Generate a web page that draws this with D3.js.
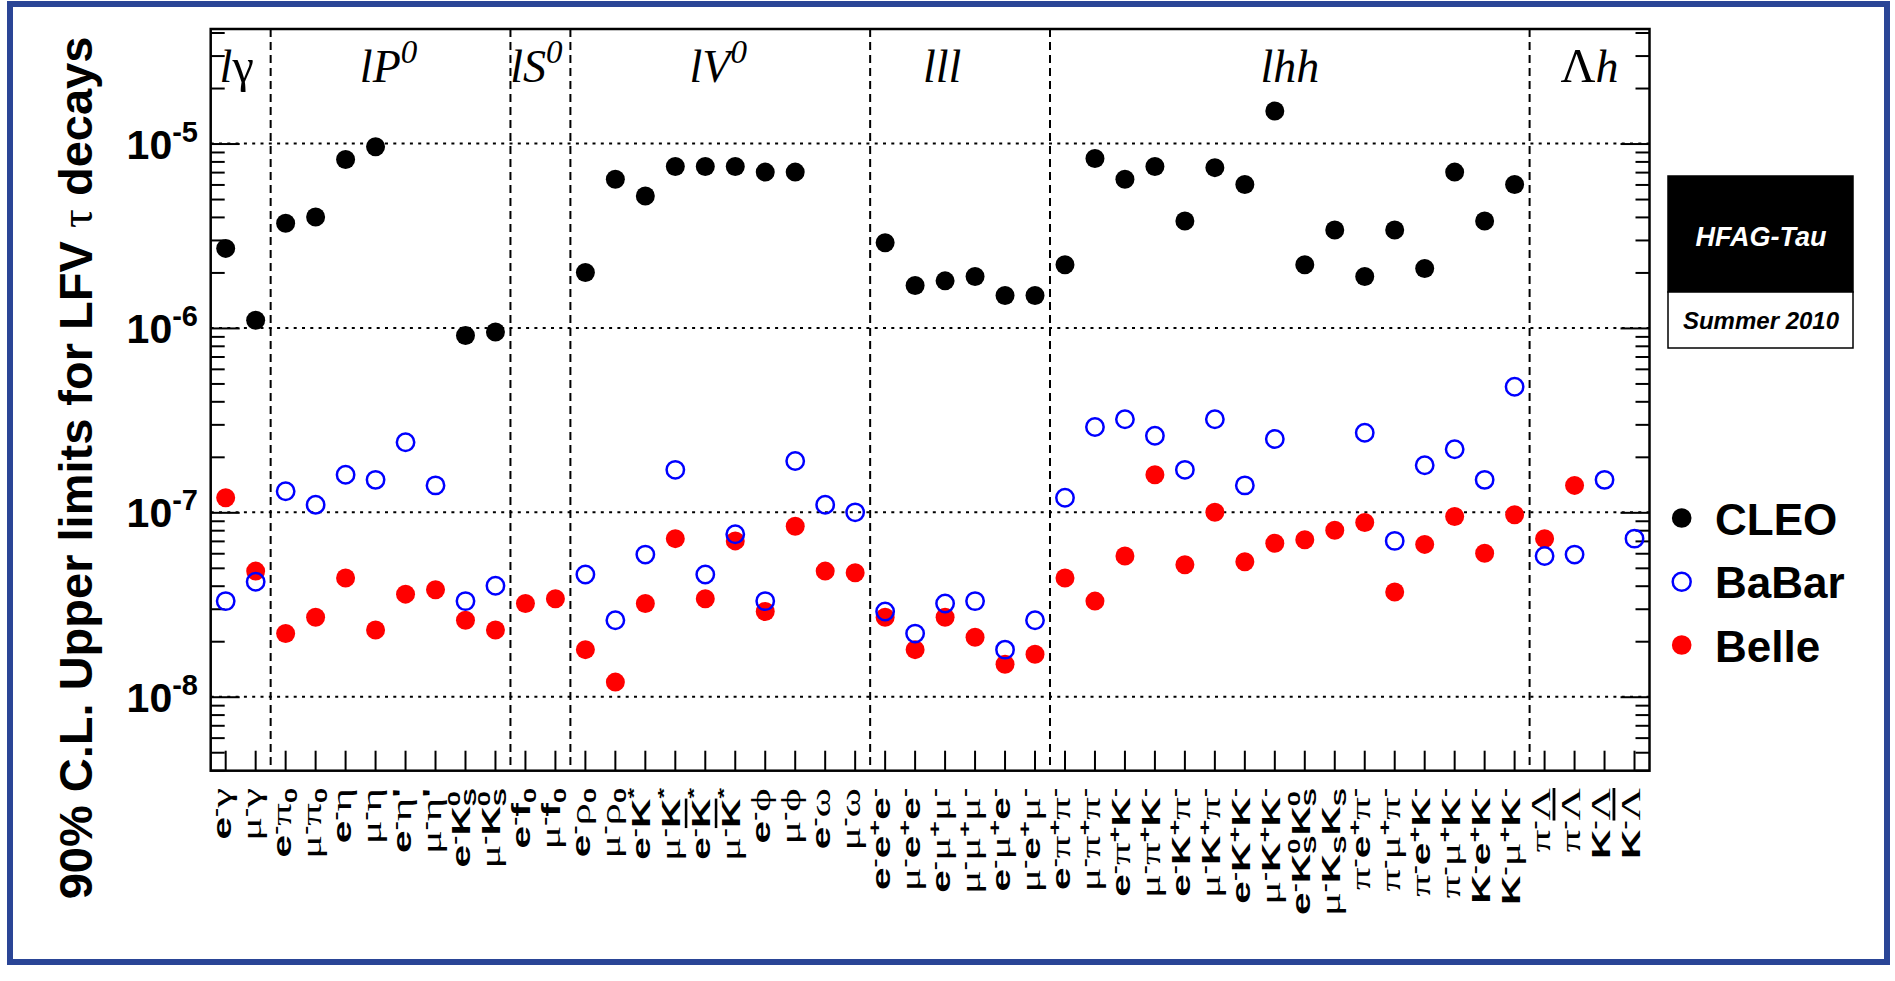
<!DOCTYPE html>
<html><head><meta charset="utf-8">
<script src="https://cdn.jsdelivr.net/npm/d3@7"></script>
<style>html,body{margin:0;padding:0;background:#fff;} svg{display:block}</style>
</head><body>
<svg id="c" width="1895" height="981"></svg>
<script>
// ---------------- data ----------------
const categories = ["e^{-}#gamma","#mu^{-}#gamma",
 "e^{-}#pi_{0}","#mu^{-}#pi_{0}","e^{-}#eta","#mu^{-}#eta","e^{-}#eta'","#mu^{-}#eta'","e^{-}K^{0}_{S}","#mu^{-}K^{0}_{S}",
 "e^{-}f_{0}","#mu^{-}f_{0}",
 "e^{-}#rho_{0}","#mu^{-}#rho_{0}","e^{-}K^{*}","#mu^{-}K^{*}","e^{-}#bar{K}^{*}","#mu^{-}#bar{K}^{*}","e^{-}#phi","#mu^{-}#phi","e^{-}#omega","#mu^{-}#omega",
 "e^{-}e^{+}e^{-}","#mu^{-}e^{+}e^{-}","e^{-}#mu^{+}#mu^{-}","#mu^{-}#mu^{+}#mu^{-}","e^{-}#mu^{+}e^{-}","#mu^{-}e^{+}#mu^{-}",
 "e^{-}#pi^{+}#pi^{-}","#mu^{-}#pi^{+}#pi^{-}","e^{-}#pi^{+}K^{-}","#mu^{-}#pi^{+}K^{-}","e^{-}K^{+}#pi^{-}","#mu^{-}K^{+}#pi^{-}","e^{-}K^{+}K^{-}","#mu^{-}K^{+}K^{-}",
 "e^{-}K^{0}_{S}K^{0}_{S}","#mu^{-}K_{S}K_{S}","#pi^{-}e^{+}#pi^{-}","#pi^{-}#mu^{+}#pi^{-}","#pi^{-}e^{+}K^{-}","#pi^{-}#mu^{+}K^{-}","K^{-}e^{+}K^{-}","K^{-}#mu^{+}K^{-}",
 "#pi^{-}#Lambda","#pi^{-}#bar{#Lambda}","K^{-}#Lambda","K^{-}#bar{#Lambda}"];

const cleo = [2.7e-6,1.1e-6, 3.7e-6,4.0e-6,8.2e-6,9.6e-6,null,null,9.1e-7,9.5e-7, null,null,
 2.0e-6,6.4e-6,5.2e-6,7.5e-6,7.5e-6,7.5e-6,7.0e-6,7.0e-6,null,null,
 2.9e-6,1.7e-6,1.8e-6,1.9e-6,1.5e-6,1.5e-6,
 2.2e-6,8.3e-6,6.4e-6,7.5e-6,3.8e-6,7.4e-6,6.0e-6,1.5e-5,2.2e-6,3.4e-6,1.9e-6,3.4e-6,2.1e-6,7.0e-6,3.8e-6,6.0e-6,
 null,null,null,null];

const babar = [3.3e-8,4.2e-8, 1.3e-7,1.1e-7,1.6e-7,1.5e-7,2.4e-7,1.4e-7,3.3e-8,4.0e-8, null,null,
 4.6e-8,2.6e-8,5.9e-8,1.7e-7,4.6e-8,7.6e-8,3.3e-8,1.9e-7,1.1e-7,1.0e-7,
 2.9e-8,2.2e-8,3.2e-8,3.3e-8,1.8e-8,2.6e-8,
 1.2e-7,2.9e-7,3.2e-7,2.6e-7,1.7e-7,3.2e-7,1.4e-7,2.5e-7,null,null,2.7e-7,7.0e-8,1.8e-7,2.2e-7,1.5e-7,4.8e-7,
 5.8e-8,5.9e-8,1.5e-7,7.2e-8];

const belle = [1.2e-7,4.8e-8, 2.2e-8,2.7e-8,4.4e-8,2.3e-8,3.6e-8,3.8e-8,2.6e-8,2.3e-8, 3.2e-8,3.4e-8,
 1.8e-8,1.2e-8,3.2e-8,7.2e-8,3.4e-8,7.0e-8,2.9e-8,8.4e-8,4.8e-8,4.7e-8,
 2.7e-8,1.8e-8,2.7e-8,2.1e-8,1.5e-8,1.7e-8,
 4.4e-8,3.3e-8,5.8e-8,1.6e-7,5.2e-8,1.0e-7,5.4e-8,6.8e-8,7.1e-8,8.0e-8,8.8e-8,3.7e-8,6.7e-8,9.5e-8,6.0e-8,9.7e-8,
 7.2e-8,1.4e-7,null,null];

const sectionNames = ["l#gamma","lP^{0}","lS^{0}","lV^{0}","lll","lhh","#Lambdah"];
const sectionSizes = [2,8,2,10,6,16,4];
const majorTicks = [1e-8,1e-7,1e-6,1e-5];
const majorTickLabels = ["-8","-7","-6","-5"];
const seriesNames = ["CLEO","BaBar","Belle"];
const yTitle = "90% C.L. Upper limits for LFV #tau decays";

// ---------------- layout ----------------
const L=210.7, R=1649.5, T=29, B=770.7;
const SANS="'Liberation Sans', Arial, Helvetica, sans-serif";
const SERIF="'Liberation Serif','Times New Roman', 'DejaVu Serif', serif";
const svg=d3.select("#c");
const x=d3.scaleBand().domain(d3.range(categories.length)).range([L,R]);
const y=d3.scaleLog().domain([3.97e-9,4.18e-5]).range([B,T]);
const cx=i=>x(i)+x.bandwidth()/2;

// latex-ish parser
const GREEK={gamma:"γ",pi:"π",eta:"η",rho:"ρ",phi:"ϕ",omega:"ω",mu:"μ",Lambda:"Λ",tau:"τ"};
const NAMES=Object.keys(GREEK).concat(["bar"]).sort((a,b)=>b.length-a.length);
function parse(s,pos="base",bar=false){
  const out=[]; let i=0;
  const group=()=>{ if(s[i]==="{"){let d=1,j=i+1; while(j<s.length&&d>0){if(s[j]==="{")d++; else if(s[j]==="}")d--; j++;} const g=s.slice(i+1,j-1); i=j; return g;} return s[i++]; };
  while(i<s.length){
    const c=s[i];
    if(c==="#"){ const rest=s.slice(i+1); const name=NAMES.find(n=>rest.startsWith(n)); i+=1+name.length;
      if(name==="bar"){ out.push(...parse(group(),pos,true)); }
      else out.push({t:GREEK[name],greek:true,pos,bar}); }
    else if(c==="^"||c==="_"){ i++; const g=group(); out.push(...parse(g,c==="^"?"sup":"sub",bar)); }
    else { out.push({t:c,greek:false,pos,bar}); i++; }
  }
  return out;
}
function renderRich(textSel,tokens,o){
  let cur=0, prevPos="base", supW=0;
  tokens.forEach(tk=>{
    let fs=tk.pos==="base"?o.size:o.supSize;
    if(tk.greek) fs*=o.greekScale||1;
    const target=tk.pos==="sup"?-o.supShift:(tk.pos==="sub"?o.subShift:0);
    const ts=textSel.append("tspan").text(tk.t)
      .attr("font-family",tk.greek?SERIF:o.latinFont)
      .attr("font-weight",tk.greek?"normal":o.latinWeight)
      .attr("font-style",tk.greek?"normal":o.latinStyle)
      .attr("font-size",fs);
    if(target!==cur){ts.attr("dy",target-cur); cur=target;}
    if(tk.pos==="sub"&&prevPos==="sup"){ts.attr("dx",-supW);}
    if(tk.bar) ts.style("text-decoration","overline");
    if(tk.pos==="sup"){ if(prevPos!=="sup") supW=0; supW+=ts.node().getComputedTextLength(); }
    prevPos=tk.pos;
  });
}

// ---------------- outer blue frame ----------------
svg.append("rect").attr("x",10).attr("y",4).attr("width",1877).attr("height",958)
  .attr("fill","none").attr("stroke","#2a4596").attr("stroke-width",6);

// ---------------- grid ----------------
svg.append("g").selectAll("line").data(majorTicks).join("line")
  .attr("x1",L).attr("x2",R).attr("y1",d=>y(d)).attr("y2",d=>y(d))
  .attr("stroke","#000").attr("stroke-width",2).attr("stroke-dasharray","3,5.3");

// section separators
let acc=0; const bounds=[];
sectionSizes.forEach((n,i)=>{ acc+=n; if(i<sectionSizes.length-1) bounds.push(acc); });
svg.append("g").selectAll("line").data(bounds).join("line")
  .attr("x1",d=>x(d)).attr("x2",d=>x(d)).attr("y1",T).attr("y2",B)
  .attr("stroke","#000").attr("stroke-width",2).attr("stroke-dasharray","8,5");

// ---------------- axes ----------------
const minors=[]; for(let e=-9;e<=-5;e++) for(let k=2;k<=9;k++){const v=k*Math.pow(10,e); if(v>=3.97e-9&&v<=4.18e-5) minors.push(v);}
function styleAxis(g){ g.select(".domain").remove(); g.selectAll(".tick line").attr("stroke","#000").attr("stroke-width",2); g.selectAll(".tick text").remove(); }
svg.append("g").attr("transform",`translate(${L},0)`).call(d3.axisLeft(y).tickValues(majorTicks).tickSize(-29).tickFormat("")).call(styleAxis);
svg.append("g").attr("transform",`translate(${L},0)`).call(d3.axisLeft(y).tickValues(minors).tickSize(-14).tickFormat("")).call(styleAxis);
svg.append("g").attr("transform",`translate(${R},0)`).call(d3.axisRight(y).tickValues(majorTicks).tickSize(-29).tickFormat("")).call(styleAxis);
svg.append("g").attr("transform",`translate(${R},0)`).call(d3.axisRight(y).tickValues(minors).tickSize(-14).tickFormat("")).call(styleAxis);
svg.append("g").attr("transform",`translate(0,${B})`).call(d3.axisBottom(x).tickSize(-20).tickFormat("")).call(styleAxis);

// frame
svg.append("rect").attr("x",L).attr("y",T).attr("width",R-L).attr("height",B-T)
  .attr("fill","none").attr("stroke","#000").attr("stroke-width",2.5);

// y tick labels
majorTicks.forEach((v,i)=>{
  const t=svg.append("text").attr("x",198).attr("y",y(v)+15).attr("text-anchor","end")
    .attr("font-family",SANS).attr("font-weight","bold");
  t.append("tspan").attr("font-size",41).text("10");
  t.append("tspan").attr("font-size",29).attr("dy",-17).text(majorTickLabels[i]);
});

// y title
{
  const t=svg.append("text").attr("transform","translate(92,468) rotate(-90)").attr("text-anchor","middle");
  renderRich(t,parse(yTitle),{size:47,supSize:30,supShift:15,subShift:8,latinFont:SANS,latinWeight:"bold",latinStyle:"normal"});
}

// x category labels
categories.forEach((lab,i)=>{
  const t=svg.append("text").attr("text-anchor","end")
    .attr("transform",`translate(${cx(i)+5},788) rotate(-90) scale(1.6,1)`);
  renderRich(t,parse(lab),{size:25.5,supSize:17,supShift:10,subShift:6,greekScale:1.1,latinFont:SANS,latinWeight:"bold",latinStyle:"normal"});
});

// section labels
const sectionCenterShift=[-4,-2,-4,-2,-18,0,0];
acc=0;
sectionNames.forEach((nm,i)=>{
  const a=acc, b=acc+sectionSizes[i]; acc=b;
  const mid=(x(a)+ (b<categories.length?x(b):R))/2 + sectionCenterShift[i];
  const t=svg.append("text").attr("x",mid).attr("y",82).attr("text-anchor","middle");
  renderRich(t,parse(nm),{size:46,supSize:33,supShift:19,subShift:8,greekScale:1.05,latinFont:SERIF,latinWeight:"normal",latinStyle:"italic"});
});

// ---------------- markers ----------------
const idx=d3.range(categories.length);
svg.append("g").selectAll("circle").data(idx.filter(i=>cleo[i]!=null)).join("circle")
  .attr("cx",cx).attr("cy",i=>y(cleo[i])).attr("r",9.5).attr("fill","#000");
svg.append("g").selectAll("circle").data(idx.filter(i=>belle[i]!=null)).join("circle")
  .attr("cx",cx).attr("cy",i=>y(belle[i])).attr("r",9.5).attr("fill","#ff0000");
svg.append("g").selectAll("circle").data(idx.filter(i=>babar[i]!=null)).join("circle")
  .attr("cx",cx).attr("cy",i=>y(babar[i])).attr("r",8.7).attr("fill","none").attr("stroke","#0000ff").attr("stroke-width",2.5);

// ---------------- legend ----------------
const legY=[518,581.7,645];
const lg=svg.append("g");
lg.append("circle").attr("cx",1681.7).attr("cy",legY[0]).attr("r",9.8).attr("fill","#000");
lg.append("circle").attr("cx",1681.7).attr("cy",legY[1]).attr("r",9).attr("fill","none").attr("stroke","#0000ff").attr("stroke-width",2.5);
lg.append("circle").attr("cx",1681.7).attr("cy",legY[2]).attr("r",9.8).attr("fill","#ff0000");
seriesNames.forEach((s,i)=>{
  lg.append("text").attr("x",1715).attr("y",legY[i]+16.5).attr("font-family",SANS).attr("font-weight","bold").attr("font-size",44).text(s);
});

// ---------------- HFAG box ----------------
svg.append("rect").attr("x",1668).attr("y",176).attr("width",185).attr("height",116).attr("fill","#000").attr("stroke","#000").attr("stroke-width",1.5);
svg.append("rect").attr("x",1668).attr("y",292).attr("width",185).attr("height",56).attr("fill","#fff").attr("stroke","#000").attr("stroke-width",1.5);
svg.append("text").attr("x",1761).attr("y",246).attr("text-anchor","middle").attr("font-family",SANS).attr("font-weight","bold").attr("font-style","italic").attr("font-size",27).attr("fill","#fff").text("HFAG-Tau");
svg.append("text").attr("x",1761).attr("y",329).attr("text-anchor","middle").attr("font-family",SANS).attr("font-weight","bold").attr("font-style","italic").attr("font-size",24).attr("fill","#000").text("Summer 2010");
</script>
</body></html>
